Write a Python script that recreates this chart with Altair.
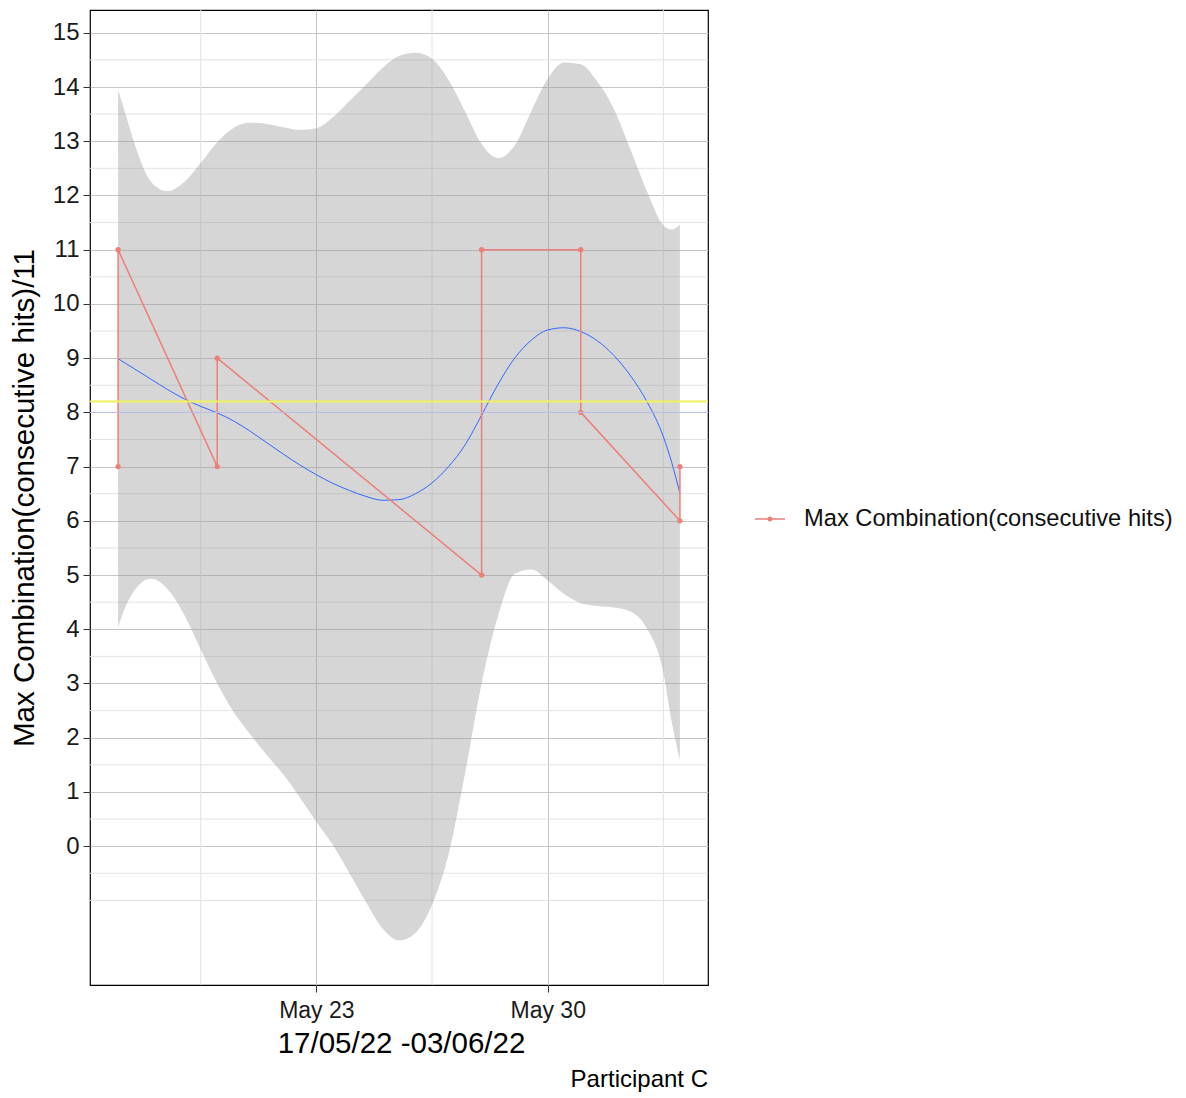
import altair as alt
import pandas as pd

# ---------------- data ----------------
obs_dates = ["2022-05-17", "2022-05-17", "2022-05-20", "2022-05-20", "2022-05-28",
             "2022-05-28", "2022-05-31", "2022-05-31", "2022-06-03", "2022-06-03"]
obs_values = [7, 11, 7, 9, 5, 11, 11, 8, 6, 7]
series_name = "Max Combination(consecutive hits)"

# smoother + confidence band, sampled in days after 17 May 2022
band_days = [0, 0.25, 0.5, 1, 1.5, 2, 2.5, 3, 3.5, 4, 4.5, 5, 5.5, 6, 6.5, 7, 7.5, 8,
             8.5, 9, 9.5, 10, 10.5, 11, 11.5, 12, 12.5, 13, 13.5, 14, 14.5, 15, 15.5,
             16, 16.5, 16.75, 17]
band_upper = [13.95, 13.45, 12.95, 12.25, 12.08, 12.25, 12.6, 12.98, 13.25, 13.34, 13.32,
              13.26, 13.21, 13.24, 13.44, 13.74, 14.04, 14.35, 14.57, 14.63, 14.52, 14.13,
              13.55, 12.95, 12.69, 12.92, 13.55, 14.15, 14.45, 14.42, 14.1, 13.6, 12.85,
              12.08, 11.45, 11.37, 11.46]
band_lower = [4.04, 4.45, 4.72, 4.93, 4.74, 4.27, 3.63, 3.0, 2.47, 2.06, 1.68, 1.32, 0.9,
              0.45, 0.02, -0.5, -1.03, -1.52, -1.74, -1.6, -1.08, -0.15, 1.35, 3.0, 4.25,
              5.02, 5.1, 4.9, 4.65, 4.48, 4.43, 4.4, 4.33, 4.02, 3.2, 2.3, 1.59]
smooth_values = [8.99, 8.895, 8.80, 8.61, 8.42, 8.25, 8.11, 7.99, 7.84, 7.65, 7.44, 7.23,
                 7.03, 6.85, 6.69, 6.56, 6.45, 6.38, 6.39, 6.5, 6.7, 7.0, 7.4, 7.95, 8.52,
                 9.0, 9.33, 9.52, 9.56, 9.49, 9.32, 9.05, 8.68, 8.2, 7.55, 7.08, 6.51]

mean_value = [8.2]
ref_value = [8.0]

y_major = list(range(0, 16))
y_minor = [-1, -0.5] + [i + 0.5 for i in range(15)]
x_minor = ["2022-05-19T12:00:00Z", "2022-05-26T12:00:00Z", "2022-06-02T12:00:00Z"]

# ---------------- tables ----------------
obs = pd.DataFrame({
    "date": [d + "T00:00:00Z" for d in obs_dates],
    "value": obs_values,
    "idx": list(range(len(obs_values))),
    "series": [series_name] * len(obs_values),
})
base = pd.Timestamp("2022-05-17", tz="UTC")
band = pd.DataFrame({
    "date": [(base + pd.to_timedelta(d, unit="D")).strftime("%Y-%m-%dT%H:%M:%SZ") for d in band_days],
    "upper": band_upper,
    "lower": band_lower,
    "fit": smooth_values,
})

FONT = "Liberation Sans"
RED = "#EC7F7A"

x_scale = alt.Scale(
    type="utc",
    domain=[alt.DateTime(year=2022, month=5, date=16, hours=3, minutes=36, utc=True),
            alt.DateTime(year=2022, month=6, date=3, hours=20, minutes=24, utc=True)],
)
y_scale = alt.Scale(domain=[-2.56, 15.42], nice=False, zero=False)

x_axis = alt.Axis(
    values=[alt.DateTime(year=2022, month=5, date=23, utc=True),
            alt.DateTime(year=2022, month=5, date=30, utc=True)],
    labelExpr="utcFormat(datum.value, '%b %d')", labelPadding=7, labelFontSize=23,
    title="17/05/22 -03/06/22", titleX=311, titleY=44, titleAlign="center",
    titleBaseline="top", labelFlush=False, labelOverlap=False,
)
y_axis = alt.Axis(
    values=y_major, labelPadding=4, labelFontSize=24,
    title="Max Combination(consecutive hits)/11", titleAngle=270, titleX=-56.5,
    titleY=487.5, titleAlign="center", titleBaseline="alphabetic",
)


def X(field):
    return alt.X(field, type="temporal", scale=x_scale, axis=x_axis)


def Y(field):
    return alt.Y(field, type="quantitative", scale=y_scale, axis=y_axis)


minor_y = alt.Chart(pd.DataFrame({"v": y_minor})).mark_rule(
    color="#E3E3E3", strokeWidth=1).encode(y=Y("v"))
minor_x = alt.Chart(pd.DataFrame({"d": x_minor})).mark_rule(
    color="#E3E3E3", strokeWidth=1).encode(x=X("d"))

ribbon = alt.Chart(band).mark_area(color="#999999", opacity=0.4, interpolate="monotone").encode(
    x=X("date"), y=Y("upper"), y2="lower")
smooth = alt.Chart(band).mark_line(color="#3366FF", strokeWidth=1, interpolate="monotone").encode(
    x=X("date"), y=Y("fit"))

red_line = alt.Chart(obs).mark_line(color=RED, strokeWidth=1.5).encode(
    x=X("date"), y=Y("value"), order=alt.Order("idx:Q"))

legend_path = ("M-1,-0.05 L1,-0.05 L1,0.05 L-1,0.05 Z "
               "M-0.17,0 A0.17,0.17 0 1,1 0.17,0 A0.17,0.17 0 1,1 -0.17,0 Z")
red_pts = alt.Chart(obs).mark_point(filled=True, size=28, opacity=1).encode(
    x=X("date"), y=Y("value"),
    color=alt.Color("series:N", scale=alt.Scale(range=[RED]),
                    legend=alt.Legend(title=None, orient="none", legendX=665, legendY=494,
                                      symbolType=legend_path, symbolSize=900,
                                      symbolStrokeWidth=0, symbolOpacity=1,
                                      labelFont=FONT, labelFontSize=23.7, labelColor="#111111",
                                      labelOffset=19, labelLimit=1000, padding=0)),
)

mean_rule = alt.Chart(pd.DataFrame({"v": mean_value})).mark_rule(
    color="#F2F25C", strokeWidth=2).encode(y=Y("v"))
ref_rule = alt.Chart(pd.DataFrame({"v": ref_value})).mark_rule(
    color="#B9C0EE", strokeWidth=1).encode(y=Y("v"))

caption = alt.Chart(pd.DataFrame({"t": ["Participant C"]})).mark_text(
    align="right", baseline="alphabetic", font=FONT, fontSize=24, color="#000000").encode(
    text="t:N", x=alt.value(618), y=alt.value(1077))

chart = alt.layer(
    minor_y, minor_x, ribbon, smooth, red_line, red_pts, ref_rule, mean_rule, caption
).properties(
    width=618, height=975,
    padding={"left": 90, "top": 10, "right": 478, "bottom": 113},
    autosize=alt.AutoSizeParams(type="none"),
).configure_view(
    stroke="#000000", strokeWidth=1.2,
).configure_axis(
    gridColor="#C6C6C6", gridWidth=1, domain=False, tickColor="#333333", tickSize=7,
    tickWidth=1, labelFont=FONT, labelColor="#1A1A1A",
    titleFont=FONT, titleFontSize=29.5, titleColor="#000000", titleFontWeight="normal",
)

chart.save("out.html", embed_options={"renderer": "svg", "actions": False})
